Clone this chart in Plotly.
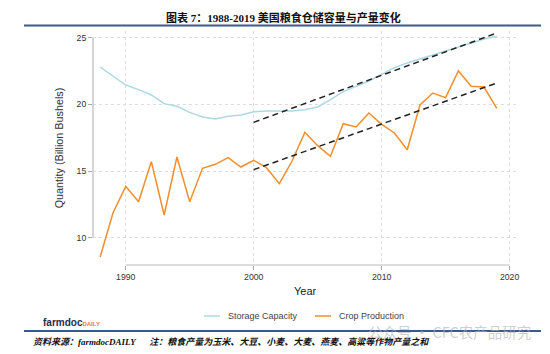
import plotly.graph_objects as go

years = list(range(1988, 2020))
storage_capacity = [22.8, 22.1, 21.45, 21.1, 20.7, 20.05, 19.85, 19.4, 19.05, 18.9, 19.1, 19.2,
                    19.45, 19.5, 19.5, 19.5, 19.6, 19.8, 20.35, 20.95, 21.35, 21.75, 22.25, 22.75,
                    23.1, 23.4, 23.7, 24.0, 24.3, 24.6, 24.9, 25.1]
crop_production = [8.55, 11.85, 13.85, 12.7, 15.7, 11.7, 16.05, 12.7, 15.2, 15.5, 16.0, 15.3,
                   15.8, 15.25, 14.05, 15.75, 17.9, 16.9, 16.1, 18.55, 18.3, 19.35, 18.5, 17.85,
                   16.6, 19.95, 20.85, 20.5, 22.5, 21.35, 21.3, 19.7]
trend_years = [2000, 2019]
storage_trend = [18.65, 25.35]
crop_trend = [15.1, 21.6]
x_ticks = [1990, 2000, 2010, 2020]
y_ticks = [10, 15, 20, 25]
series_names = ["Storage Capacity", "Crop Production"]

BLUE = "#add8e6"
ORANGE = "#f28e2b"
NAVY = "#3a5a8a"

# plot area in pixels: x 93..517, y 31..265
L, R, T, B = 93, 33, 31, 89
PW, PH = 550 - L - R, 354 - T - B


def px(x):
    return (x - L) / PW


def py(y):
    return (354 - B - y) / PH


fig = go.Figure()
fig.add_trace(go.Scatter(x=years, y=storage_capacity, mode="lines", name=series_names[0],
                         line=dict(color=BLUE, width=1.5), showlegend=False))
fig.add_trace(go.Scatter(x=years, y=crop_production, mode="lines", name=series_names[1],
                         line=dict(color=ORANGE, width=1.5), showlegend=False))
fig.add_trace(go.Scatter(x=trend_years, y=storage_trend, mode="lines", showlegend=False,
                         line=dict(color="#222222", width=1.5, dash="6px,4px")))
fig.add_trace(go.Scatter(x=trend_years, y=crop_trend, mode="lines", showlegend=False,
                         line=dict(color="#222222", width=1.5, dash="6px,4px")))

grid = dict(showgrid=True, gridcolor="#dddddd", griddash="dot", gridwidth=1,
            zeroline=False, showline=False,
            ticks="outside", ticklen=4, tickcolor="#aaaaaa", tickwidth=1,
            tickfont=dict(family="Liberation Sans, Arial", size=8.7, color="#333333"))

fig.update_xaxes(range=[1987.44, 2020.58], tickvals=x_ticks, **grid)
fig.update_yaxes(range=[7.95, 25.5], tickvals=y_ticks, **grid,
                 title=dict(text="Quantity (Billion Bushels)",
                            font=dict(family="Liberation Sans, Arial", size=10.8, color="#333333"),
                            standoff=10))

shapes = [
    dict(type="line", xref="x", yref="paper", x0=x_ticks[0], x1=x_ticks[-1], y0=0, y1=0,
         line=dict(color="#bbbbbb", width=1.2)),
    dict(type="line", xref="paper", yref="y", x0=0, x1=0, y0=y_ticks[0], y1=y_ticks[-1],
         line=dict(color="#bbbbbb", width=1.2)),
    dict(type="line", xref="paper", yref="paper", x0=px(24), x1=px(541), y0=py(25.5), y1=py(25.5),
         line=dict(color=NAVY, width=2)),
    dict(type="line", xref="paper", yref="paper", x0=px(24), x1=px(541), y0=py(331), y1=py(331),
         line=dict(color=NAVY, width=2)),
    # legend samples
    dict(type="line", xref="paper", yref="paper", x0=px(204), x1=px(220), y0=py(316), y1=py(316),
         line=dict(color=BLUE, width=1.5)),
    dict(type="line", xref="paper", yref="paper", x0=px(315), x1=px(331), y0=py(316), y1=py(316),
         line=dict(color=ORANGE, width=1.5)),
]

annotations = [
    dict(text="<b>图表 7：1988-2019 美国粮食仓储容量与产量变化</b>", xref="paper", yref="paper",
         x=px(283), y=py(17.5), xanchor="center", yanchor="middle", showarrow=False,
         font=dict(family="Liberation Serif, Noto Sans CJK SC", size=11, color="#111111")),
    dict(text="Year", xref="paper", yref="paper", x=px(305), y=py(291), xanchor="center",
         yanchor="middle", showarrow=False,
         font=dict(family="Liberation Sans, Arial", size=11, color="#222222")),
    dict(text=series_names[0], xref="paper", yref="paper", x=px(226), y=py(316), xanchor="left",
         yanchor="middle", showarrow=False,
         font=dict(family="Liberation Sans, Arial", size=9, color="#444444")),
    dict(text=series_names[1], xref="paper", yref="paper", x=px(337), y=py(316), xanchor="left",
         yanchor="middle", showarrow=False,
         font=dict(family="Liberation Sans, Arial", size=9, color="#444444")),
    dict(text="<b>farmdoc</b><b><span style='font-size:6px;color:#e8792a'>DAILY</span></b>",
         xref="paper", yref="paper", x=px(41), y=py(322.3), xanchor="left", yanchor="middle",
         showarrow=False, font=dict(family="Liberation Sans, Arial", size=10, color="#1f2d4d")),
    dict(text="<b><i>资料来源：farmdocDAILY" + "&nbsp;" * 6 +
              "注：粮食产量为玉米、大豆、小麦、大麦、燕麦、高粱等作物产量之和</i></b>",
         xref="paper", yref="paper", x=px(31), y=py(342.3), xanchor="left", yanchor="middle",
         showarrow=False, font=dict(family="Liberation Serif, Noto Sans CJK SC", size=9, color="#111111")),
    dict(text="公众号 · CFC农产品研究", xref="paper", yref="paper", x=px(533), y=py(332),
         xanchor="right", yanchor="middle", showarrow=False,
         font=dict(family="Noto Sans CJK SC", size=14.5, color="rgba(175,175,175,0.6)")),
]

fig.update_layout(
    width=550, height=354,
    margin=dict(l=L, r=R, t=T, b=B),
    paper_bgcolor="white", plot_bgcolor="white",
    showlegend=False,
    shapes=shapes, annotations=annotations,
)

fig.write_html("out.html")
